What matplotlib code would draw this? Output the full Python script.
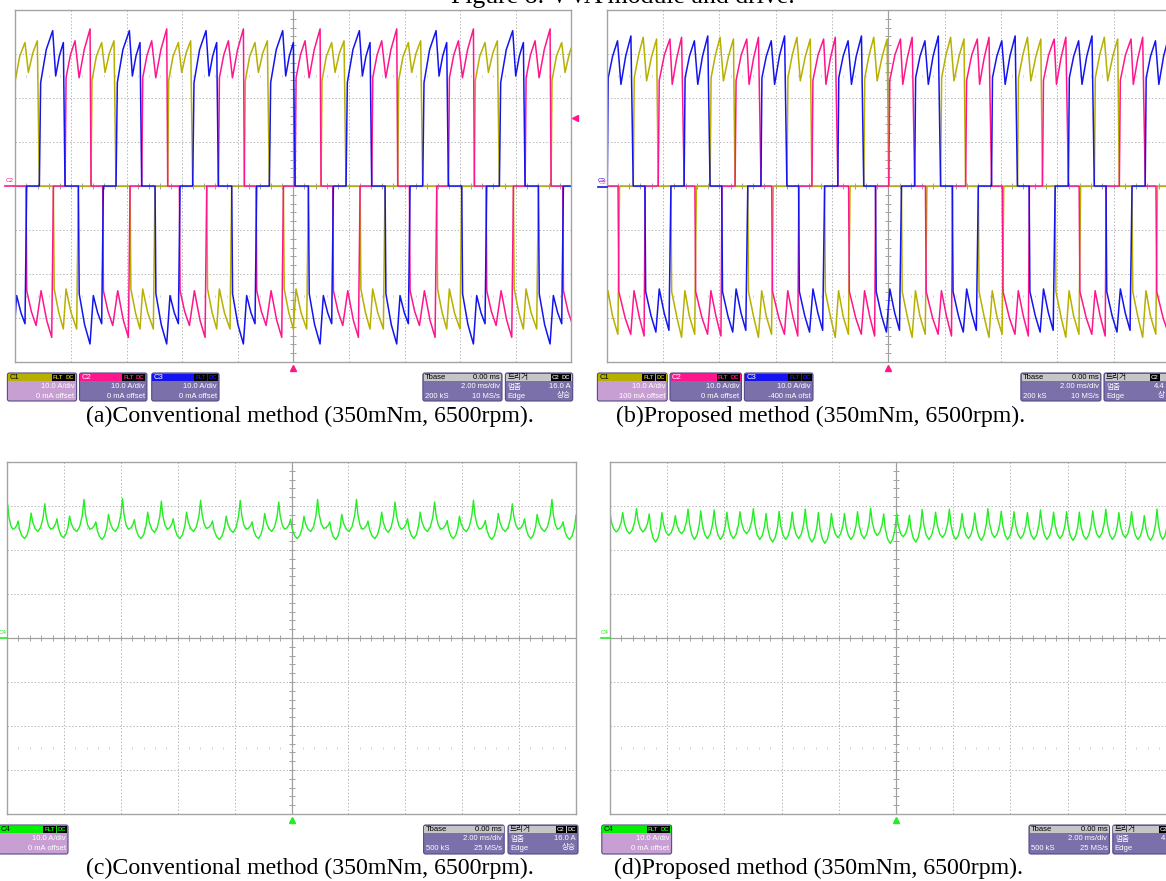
import matplotlib
matplotlib.use('Agg')
import matplotlib.pyplot as plt
import numpy as np
from matplotlib.patches import FancyBboxPatch, Rectangle

plt.rcParams['font.family'] = ['Liberation Sans', 'Noto Sans CJK KR']

W, H = 1166, 881

YEL = '#b8b000'
PNK = '#ff168c'
BLU = '#1414f0'
GRN = '#22ee22'

# ---------------- data ----------------
# phase current shape for one electrical period: (fraction of period, A)
# (a) conventional method
period_a = 2.758                      # ms
start_a = [-7.277, -8.21, -9.135]     # first positive edge of C1, C2, C3 (ms)
a_c1 = [(0, 0), (0.013, 24.0), (0.07, 29.5), (0.139, 32.6), (0.183, 25.8), (0.24, 30.2),
        (0.30, 33.0), (0.326, 0), (0.509, 0), (0.52, -23.4), (0.58, -28.8), (0.639, -32.5),
        (0.674, -23.4), (0.74, -28.8), (0.813, -32.5), (0.835, 0), (1.0, 0)]
a_c2 = [(0, 0), (0.013, 24.6), (0.07, 29.8), (0.13, 33.0), (0.183, 24.6), (0.25, 31.0),
        (0.326, 35.7), (0.339, 0), (0.491, 0), (0.50, -23.8), (0.56, -28.5), (0.622, -31.7),
        (0.687, -23.8), (0.76, -30.5), (0.826, -34.4), (0.848, 0), (1.0, 0)]
a_c3 = [(0, 0), (0.017, 23.5), (0.09, 31.0), (0.174, 35.3), (0.213, 25.0), (0.26, 29.5),
        (0.313, 32.6), (0.335, 0), (0.509, 0), (0.52, -24.5), (0.59, -31.5), (0.661, -35.9),
        (0.704, -24.9), (0.76, -28.8), (0.813, -31.3), (0.835, 0), (1.0, 0)]

# (b) proposed method
period_b = 2.729
start_b = [-9.058, -8.17, -9.981]
b_c1 = [(0, 0), (0.013, 24.6), (0.07, 29.8), (0.13, 33.8), (0.174, 23.9), (0.24, 29.5),
        (0.304, 33.4), (0.325, 0), (0.49, 0), (0.50, -24.0), (0.57, -30.0), (0.629, -34.4),
        (0.672, -23.8), (0.73, -29.5), (0.80, -33.7), (0.822, 0), (1.0, 0)]
b_c2 = [(0, 0), (0.013, 24.0), (0.08, 29.8), (0.152, 33.4), (0.182, 23.1), (0.24, 29.0),
        (0.304, 33.8), (0.338, 0), (0.477, 0), (0.487, -24.0), (0.57, -30.0), (0.642, -33.7),
        (0.685, -23.8), (0.75, -29.5), (0.816, -34.1), (0.83, 0), (1.0, 0)]
b_c3 = [(0, 0), (0.013, 24.6), (0.07, 29.5), (0.134, 33.0), (0.178, 23.1), (0.24, 29.5),
        (0.308, 34.1), (0.338, 0), (0.49, 0), (0.50, -24.0), (0.57, -29.5), (0.633, -33.2),
        (0.677, -23.4), (0.74, -28.8), (0.803, -32.8), (0.829, 0), (1.0, 0)]

# (c) conventional method, C4 ripple: peak times (ms), peak values, trough after each peak (A)
c_t = [-9.974, -9.610, -9.154, -8.673, -8.243, -7.801, -7.293, -6.877, -6.434, -5.940,
       -5.524, -5.055, -4.574, -4.157, -3.689, -3.194, -2.778, -2.296, -1.802, -1.385,
       -0.943, -0.448, -0.032, 0.437, 0.918, 1.347, 1.764, 2.284, 2.688, 3.169,
       3.638, 4.080, 4.522, 5.030, 5.472, 5.902, 6.396, 6.813, 7.268, 7.763,
       8.192, 8.635, 9.155, 9.546, 10.001]
c_pk = [30.2, 26.6, 28.4, 30.5, 27.1, 27.7, 31.5, 26.4, 28.1, 31.7,
        26.9, 28.6, 31.1, 27.1, 28.6, 31.3, 26.6, 27.7, 31.3, 26.4,
        28.3, 30.9, 27.0, 27.7, 31.5, 26.4, 28.1, 31.5, 26.6, 28.6,
        30.9, 27.1, 28.6, 30.9, 26.7, 27.7, 31.3, 26.7, 28.3, 30.5,
        27.1, 28.1, 31.5, 26.4, 27.9]
c_tr = [24.7, 22.6, 24.2, 24.7, 22.8, 24.2, 24.7, 22.4, 24.2, 24.7,
        22.6, 24.0, 24.7, 22.6, 24.2, 24.9, 22.4, 24.0, 24.7, 22.6,
        24.2, 24.7, 22.6, 24.2, 24.9, 22.4, 24.2, 24.7, 22.6, 24.0,
        24.7, 22.6, 24.2, 24.7, 22.6, 24.2, 24.7, 22.4, 24.2, 24.7,
        22.6, 24.2, 24.7, 22.4]

# (d) proposed method, C4 ripple
d_t = [-10.0, -9.556, -9.074, -8.629, -8.185, -7.716, -7.271, -6.827, -6.358, -5.914,
       -5.457, -4.987, -4.543, -4.086, -3.629, -3.172, -2.715, -2.258, -1.802, -1.345,
       -0.888, -0.431, 0.026, 0.470, 0.914, 1.384, 1.866, 2.310, 2.754, 3.211,
       3.681, 4.125, 4.595, 5.052, 5.509, 5.965, 6.410, 6.879, 7.336, 7.793,
       8.237, 8.681, 9.126, 9.519, 9.970]
d_pk = [28.4, 28.5, 29.4, 28.2, 28.5, 27.8, 29.3, 28.9, 29.1, 28.6,
        28.7, 29.4, 28.3, 28.8, 28.6, 29.3, 28.5, 28.3, 28.3, 28.7,
        29.5, 28.2, 28.3, 27.9, 29.2, 28.6, 29.3, 28.3, 28.4, 29.4,
        28.8, 28.7, 28.5, 29.1, 28.6, 28.7, 28.6, 28.9, 29.3, 28.5,
        28.7, 27.8, 29.3, 27.9, 28.8]
d_tr = [24.1, 23.7, 24.1, 21.8, 23.3, 23.7, 22.4, 22.6, 22.4, 22.6,
        23.7, 22.4, 21.8, 22.4, 22.6, 21.8, 21.5, 22.8, 22.4, 22.6,
        23.3, 21.5, 23.0, 21.8, 22.4, 22.8, 22.4, 22.6, 22.2, 22.8,
        22.4, 22.6, 22.4, 22.4, 22.6, 22.2, 22.4, 22.8, 22.4, 22.8,
        22.4, 22.2, 22.4, 22.6]


# ---------------- helpers ----------------
def tile(shape, t0, period):
    s = np.array(shape)
    t, v = [], []
    for k in range(-2, int(20 / period) + 3):
        t.append(t0 + (k + s[:, 0]) * period)
        v.append(s[:, 1])
    return np.concatenate(t), np.concatenate(v)


def ripple(tp, pk, tr):
    t, v = [], []
    fr = [0, 0.12, 0.3, 0.5, 0.7, 0.88]
    for i in range(len(tp) - 1):
        d1 = pk[i] - tr[i]
        d2 = pk[i + 1] - tr[i]
        vals = [pk[i], pk[i] - 0.5 * d1, tr[i] + 0.15 * d1, tr[i], tr[i] + 0.15 * d2, pk[i + 1] - 0.5 * d2]
        dt = tp[i + 1] - tp[i]
        for f, val in zip(fr, vals):
            t.append(tp[i] + f * dt)
            v.append(val)
    t.append(tp[-1])
    v.append(pk[-1])
    return t, v


fig = plt.figure(figsize=(W / 100, H / 100), dpi=100)


def scope(left, top, w, h):
    ax = fig.add_axes([left / W, 1 - (top + h) / H, w / W, h / H])
    ax.set_xlim(-10, 10)
    ax.set_ylim(-40, 40)
    ax.set_xticks([])
    ax.set_yticks([])
    for s in ax.spines.values():
        s.set_color('#a4a4a4')
        s.set_linewidth(1.0)
    for x in range(-8, 9, 2):
        if x:
            ax.axvline(x, color='#b8b8b8', lw=0.7, ls=(0, (1.5, 2)))
    for y in range(-30, 31, 10):
        if y:
            ax.axhline(y, color='#b8b8b8', lw=0.7, ls=(0, (1.5, 2)))
    ax.axvline(0, color='#a0a0a0', lw=0.9)
    ax.axhline(0, color='#a0a0a0', lw=0.9)
    xt = np.arange(-9.6, 9.7, 0.4)
    yt = np.arange(-38, 39, 2)
    ax.plot(xt, np.zeros_like(xt), ls='none', marker='|', ms=4, mew=0.7, color='#a0a0a0')
    ax.plot(np.zeros_like(yt), yt, ls='none', marker='_', ms=4, mew=0.7, color='#a0a0a0')
    for y in (25, -25):
        ax.plot(xt, np.full_like(xt, y), ls='none', marker='|', ms=1.5, mew=0.6, color='#c8c8c8')
    return ax


# (a)
ax_a = scope(15.3, 10, 556, 352)
for shape, t0, col in zip([a_c1, a_c2, a_c3], start_a, [YEL, PNK, BLU]):
    t, v = tile(shape, t0, period_a)
    ax_a.plot(t, v, color=col, lw=1.1)

# (b)
ax_b = scope(606.7, 10, 563.2, 352)
for shape, t0, col in zip([b_c1, b_c2, b_c3], start_b, [YEL, PNK, BLU]):
    t, v = tile(shape, t0, period_b)
    ax_b.plot(t, v, color=col, lw=1.1)

# (c)
ax_c = scope(7, 462, 569, 352)
t, v = ripple(c_t, c_pk, c_tr)
ax_c.plot(t, v, color=GRN, lw=1.0)

# (d)
ax_d = scope(610, 462, 572, 352)
t, v = ripple(d_t, d_pk, d_tr)
ax_d.plot(t, v, color=GRN, lw=1.0)

# ---------------- overlay: boxes, markers, captions ----------------
ov = fig.add_axes([0, 0, 1, 1], zorder=10)
ov.set_xlim(0, W)
ov.set_ylim(H, 0)
ov.axis('off')

BODY = '#7b70aa'
BODY1 = '#c89fd2'
EDGE = '#544a86'
FS = 5.5


def badge(x, y, w, txt, col):
    ov.add_patch(Rectangle((x, y), w, 6.5, fc='black', ec='none'))
    ov.text(x + w / 2, y + 3.4, txt, fontsize=4.3, color=col, ha='center', va='center', weight='bold')


def frame(x, y, w, h, head, body):
    ov.add_patch(FancyBboxPatch((x, y), w, h, boxstyle='round,pad=0,rounding_size=2',
                                fc=body, ec=EDGE, lw=0.8))
    ov.add_patch(Rectangle((x + 0.6, y + 0.6), w - 1.2, 7.6, fc=head, ec='none'))


def chan_box(x, y, w, h, name, head, body, name_col, line1, line2):
    frame(x, y, w, h, head, body)
    ov.text(x + 2, y + 4.5, name, fontsize=FS, color=name_col, ha='left', va='center')
    badge(x + w - 25, y + 1, 13, 'FLT', head)
    badge(x + w - 11.5, y + 1, 10, 'DC', head)
    ov.text(x + w - 2, y + 14, line1, fontsize=FS, color='white', ha='right', va='center')
    ov.text(x + w - 2, y + 23, line2, fontsize=FS, color='white', ha='right', va='center')


def tbase_box(x, y, w, h, ks, ms):
    frame(x, y, w, h, '#c6c6c6', BODY)
    ov.text(x + 2, y + 4.5, 'Tbase', fontsize=FS, color='black', ha='left', va='center')
    ov.text(x + w - 2, y + 4.5, '0.00 ms', fontsize=FS, color='black', ha='right', va='center')
    ov.text(x + w - 2, y + 14, '2.00 ms/div', fontsize=FS, color='white', ha='right', va='center')
    ov.text(x + 2, y + 23, ks, fontsize=FS, color='white', ha='left', va='center')
    ov.text(x + w - 2, y + 23, ms, fontsize=FS, color='white', ha='right', va='center')


def trig_box(x, y, w, h, level, edge='상승', cut=False):
    frame(x, y, w, h, '#c6c6c6', BODY)
    ov.text(x + 2, y + 4.5, '트리거', fontsize=FS, color='black', ha='left', va='center')
    if cut:
        # box runs off the right edge of the picture: only the start of its right column shows
        badge(x + w - 24, y + 1, 10, 'C2', '#c6c6c6')
        ov.text(x + 2, y + 14, '멈춤', fontsize=FS, color='white', ha='left', va='center')
        ov.text(W - 1, y + 14, level, fontsize=FS, color='white', ha='right', va='center')
        ov.text(x + 2, y + 23, 'Edge', fontsize=FS, color='white', ha='left', va='center')
        if edge:
            ov.text(W - 1, y + 23, edge, fontsize=FS, color='white', ha='right', va='center')
        return
    badge(x + w - 22, y + 1, 10, 'C2', '#c6c6c6')
    badge(x + w - 11.5, y + 1, 10, 'DC', '#c6c6c6')
    ov.text(x + 2, y + 14, '멈춤', fontsize=FS, color='white', ha='left', va='center')
    ov.text(x + w - 2, y + 14, level, fontsize=FS, color='white', ha='right', va='center')
    ov.text(x + 2, y + 23, 'Edge', fontsize=FS, color='white', ha='left', va='center')
    ov.text(x + w - 2, y + 23, edge, fontsize=FS, color='white', ha='right', va='center')


# top row
chan_box(7.4, 373, 69.2, 28, 'C1', YEL, BODY1, 'black', '10.0 A/div', '0 mA offset')
chan_box(79.5, 373, 67.4, 28, 'C2', PNK, BODY, 'white', '10.0 A/div', '0 mA offset')
chan_box(151.7, 373, 67.3, 28, 'C3', BLU, BODY, 'white', '10.0 A/div', '0 mA offset')
tbase_box(422.9, 373, 79.1, 28, '200 kS', '10 MS/s')
trig_box(505.4, 373, 67.3, 28, '16.0 A')

chan_box(597.4, 373, 69.8, 28, 'C1', YEL, BODY1, 'black', '10.0 A/div', '100 mA offset')
chan_box(670, 373, 71.5, 28, 'C2', PNK, BODY, 'white', '10.0 A/div', '0 mA offset')
chan_box(744.4, 373, 68.6, 28, 'C3', BLU, BODY, 'white', '10.0 A/div', '-400 mA ofst')
tbase_box(1020.9, 373, 80, 28, '200 kS', '10 MS/s')
trig_box(1104, 373, 70, 28, '4.4', '상', cut=True)

# bottom row
chan_box(-1, 825, 69, 29, 'C4', '#00f000', BODY1, 'black', '10.0 A/div', '0 mA offset')
tbase_box(423.6, 825, 80.6, 29, '500 kS', '25 MS/s')
trig_box(508, 825, 70, 29, '16.0 A')

chan_box(601.8, 825, 69.8, 29, 'C4', '#00f000', BODY1, 'black', '10.0 A/div', '0 mA offset')
tbase_box(1029, 825, 80.5, 29, '500 kS', '25 MS/s')
trig_box(1112.8, 825, 70, 29, '4', None, cut=True)

# trigger position / level markers and channel labels
ov.plot([293.3, 888.3], [368, 368], ls='none', marker='^', ms=4.5, color=PNK)
ov.plot([291.5, 896], [820, 820], ls='none', marker='^', ms=4.5, color=GRN)
ov.plot([574.5], [117.5], ls='none', marker='<', ms=4.5, color=PNK)
ov.text(9.5, 181, 'C2', fontsize=4.5, color=PNK, ha='center', va='center')
ov.plot([5, 15], [186, 186], color=PNK, lw=1.2)
ov.text(602, 181, 'C3', fontsize=4.5, color=BLU, ha='center', va='center')
ov.text(603, 182, 'C2', fontsize=4.5, color=PNK, ha='center', va='center', alpha=0.7)
ov.plot([598, 607], [186.5, 186.5], color=BLU, lw=1.2)
ov.text(3, 632, 'C4', fontsize=4.5, color=GRN, ha='center', va='center')
ov.plot([0, 7], [638, 638], color=GRN, lw=1.2)
ov.text(604.5, 632, 'C4', fontsize=4.5, color=GRN, ha='center', va='center')
ov.plot([601, 610], [638, 638], color=GRN, lw=1.2)

# captions
serif = 'Liberation Serif'
CFS = 17.2
ov.text(310, 416, '(a)Conventional method (350mNm, 6500rpm).', fontsize=CFS, family=serif,
        ha='center', va='center')
ov.text(821, 416, '(b)Proposed method (350mNm, 6500rpm).', fontsize=CFS, family=serif,
        ha='center', va='center')
ov.text(310, 868, '(c)Conventional method (350mNm, 6500rpm).', fontsize=CFS, family=serif,
        ha='center', va='center')
ov.text(819, 868, '(d)Proposed method (350mNm, 6500rpm).', fontsize=CFS, family=serif,
        ha='center', va='center')
ov.text(623, 3, 'Figure 8. VVA module and drive.', fontsize=18.5, family=serif,
        ha='center', va='baseline')

fig.savefig('out.png', dpi=100)
